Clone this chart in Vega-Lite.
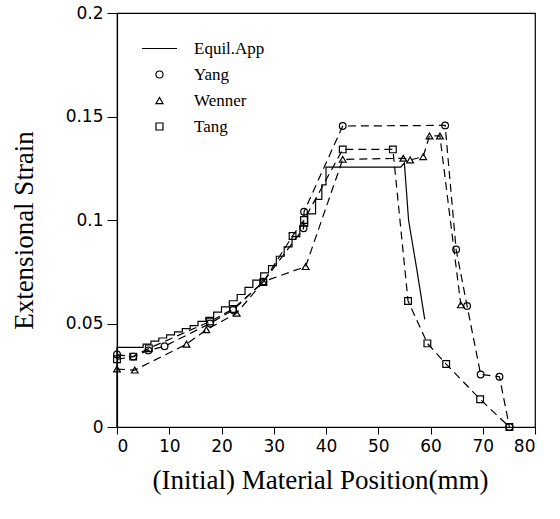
{
  "$schema": "https://vega.github.io/schema/vega-lite/v6.json",
  "width": 418,
  "height": 414,
  "autosize": "none",
  "padding": {"left": 117, "top": 13, "right": 25, "bottom": 92},
  "background": "white",
  "config": {
    "view": {"stroke": "black", "strokeWidth": 1.2},
    "axis": {
      "grid": false,
      "domainColor": "black",
      "domainWidth": 1.2,
      "tickColor": "black",
      "labelColor": "black",
      "labelFont": "DejaVu Sans",
      "labelFontSize": 17,
      "titleFont": "Liberation Serif",
      "titleFontSize": 27,
      "titleFontWeight": "normal",
      "titleColor": "black"
    },
    "legend": {
      "labelFont": "Liberation Serif",
      "labelFontSize": 17,
      "labelColor": "black",
      "symbolStrokeColor": "black",
      "symbolFillColor": "transparent",
      "symbolStrokeWidth": 1.2,
      "padding": 0
    }
  },
  "data": {
    "values": [
      {"series": "Equil.App", "i": 1, "x": 0, "y": 0},
      {"series": "Equil.App", "i": 2, "x": 0, "y": 0.0385},
      {"series": "Equil.App", "i": 3, "x": 5, "y": 0.0385},
      {"series": "Equil.App", "i": 4, "x": 5, "y": 0.040},
      {"series": "Equil.App", "i": 5, "x": 6.5, "y": 0.040},
      {"series": "Equil.App", "i": 6, "x": 6.5, "y": 0.0415},
      {"series": "Equil.App", "i": 7, "x": 8, "y": 0.0415},
      {"series": "Equil.App", "i": 8, "x": 8, "y": 0.043},
      {"series": "Equil.App", "i": 9, "x": 9.5, "y": 0.043},
      {"series": "Equil.App", "i": 10, "x": 9.5, "y": 0.0445},
      {"series": "Equil.App", "i": 11, "x": 11, "y": 0.0445},
      {"series": "Equil.App", "i": 12, "x": 11, "y": 0.046},
      {"series": "Equil.App", "i": 13, "x": 12.5, "y": 0.046},
      {"series": "Equil.App", "i": 14, "x": 12.5, "y": 0.0475},
      {"series": "Equil.App", "i": 15, "x": 14, "y": 0.0475},
      {"series": "Equil.App", "i": 16, "x": 14, "y": 0.049},
      {"series": "Equil.App", "i": 17, "x": 15.5, "y": 0.049},
      {"series": "Equil.App", "i": 18, "x": 15.5, "y": 0.051},
      {"series": "Equil.App", "i": 19, "x": 17, "y": 0.051},
      {"series": "Equil.App", "i": 20, "x": 17, "y": 0.053},
      {"series": "Equil.App", "i": 21, "x": 18.5, "y": 0.053},
      {"series": "Equil.App", "i": 22, "x": 18.5, "y": 0.0555},
      {"series": "Equil.App", "i": 23, "x": 20, "y": 0.0555},
      {"series": "Equil.App", "i": 24, "x": 20, "y": 0.058},
      {"series": "Equil.App", "i": 25, "x": 21.5, "y": 0.058},
      {"series": "Equil.App", "i": 26, "x": 21.5, "y": 0.061},
      {"series": "Equil.App", "i": 27, "x": 23, "y": 0.061},
      {"series": "Equil.App", "i": 28, "x": 23, "y": 0.064},
      {"series": "Equil.App", "i": 29, "x": 24.5, "y": 0.064},
      {"series": "Equil.App", "i": 30, "x": 24.5, "y": 0.0675},
      {"series": "Equil.App", "i": 31, "x": 26, "y": 0.0675},
      {"series": "Equil.App", "i": 32, "x": 26, "y": 0.071},
      {"series": "Equil.App", "i": 33, "x": 27.5, "y": 0.071},
      {"series": "Equil.App", "i": 34, "x": 27.5, "y": 0.0745},
      {"series": "Equil.App", "i": 35, "x": 29, "y": 0.0745},
      {"series": "Equil.App", "i": 36, "x": 29, "y": 0.078},
      {"series": "Equil.App", "i": 37, "x": 30.5, "y": 0.078},
      {"series": "Equil.App", "i": 38, "x": 30.5, "y": 0.0825},
      {"series": "Equil.App", "i": 39, "x": 32, "y": 0.0825},
      {"series": "Equil.App", "i": 40, "x": 32, "y": 0.087},
      {"series": "Equil.App", "i": 41, "x": 33.5, "y": 0.087},
      {"series": "Equil.App", "i": 42, "x": 33.5, "y": 0.092},
      {"series": "Equil.App", "i": 43, "x": 35, "y": 0.092},
      {"series": "Equil.App", "i": 44, "x": 35, "y": 0.097},
      {"series": "Equil.App", "i": 45, "x": 36.5, "y": 0.097},
      {"series": "Equil.App", "i": 46, "x": 36.5, "y": 0.103},
      {"series": "Equil.App", "i": 47, "x": 38, "y": 0.103},
      {"series": "Equil.App", "i": 48, "x": 38, "y": 0.110},
      {"series": "Equil.App", "i": 49, "x": 39.2, "y": 0.110},
      {"series": "Equil.App", "i": 50, "x": 39.2, "y": 0.117},
      {"series": "Equil.App", "i": 51, "x": 40, "y": 0.117},
      {"series": "Equil.App", "i": 52, "x": 40, "y": 0.1255},
      {"series": "Equil.App", "i": 53, "x": 54.3, "y": 0.1255},
      {"series": "Equil.App", "i": 54, "x": 55, "y": 0.1275},
      {"series": "Equil.App", "i": 55, "x": 55.8, "y": 0.1},
      {"series": "Equil.App", "i": 56, "x": 57.4, "y": 0.0758},
      {"series": "Equil.App", "i": 57, "x": 58.9, "y": 0.052},

      {"series": "Yang", "i": 1, "x": 0, "y": 0.035},
      {"series": "Yang", "i": 2, "x": 3.1, "y": 0.034},
      {"series": "Yang", "i": 3, "x": 6, "y": 0.037},
      {"series": "Yang", "i": 4, "x": 9.1, "y": 0.039},
      {"series": "Yang", "i": 5, "x": 17.8, "y": 0.050},
      {"series": "Yang", "i": 6, "x": 22.2, "y": 0.0565},
      {"series": "Yang", "i": 7, "x": 28, "y": 0.0702},
      {"series": "Yang", "i": 8, "x": 35.7, "y": 0.096},
      {"series": "Yang", "i": 9, "x": 35.8, "y": 0.104},
      {"series": "Yang", "i": 10, "x": 43.2, "y": 0.1454},
      {"series": "Yang", "i": 11, "x": 62.8, "y": 0.1457},
      {"series": "Yang", "i": 12, "x": 64.9, "y": 0.0858},
      {"series": "Yang", "i": 13, "x": 67, "y": 0.0585},
      {"series": "Yang", "i": 14, "x": 69.6, "y": 0.0254},
      {"series": "Yang", "i": 15, "x": 73.2, "y": 0.0243},
      {"series": "Yang", "i": 16, "x": 75.1, "y": 0},

      {"series": "Wenner", "i": 1, "x": 0, "y": 0.028},
      {"series": "Wenner", "i": 2, "x": 3.4, "y": 0.0275},
      {"series": "Wenner", "i": 3, "x": 13.3, "y": 0.040},
      {"series": "Wenner", "i": 4, "x": 17.1, "y": 0.047},
      {"series": "Wenner", "i": 5, "x": 22.9, "y": 0.055},
      {"series": "Wenner", "i": 6, "x": 28, "y": 0.0702},
      {"series": "Wenner", "i": 7, "x": 36.1, "y": 0.0775},
      {"series": "Wenner", "i": 8, "x": 43.2, "y": 0.1293},
      {"series": "Wenner", "i": 9, "x": 54.8, "y": 0.1298},
      {"series": "Wenner", "i": 10, "x": 56.1, "y": 0.129},
      {"series": "Wenner", "i": 11, "x": 58.6, "y": 0.1306},
      {"series": "Wenner", "i": 12, "x": 59.8, "y": 0.1406},
      {"series": "Wenner", "i": 13, "x": 61.8, "y": 0.1406},
      {"series": "Wenner", "i": 14, "x": 65.8, "y": 0.059},

      {"series": "Tang", "i": 1, "x": 0, "y": 0.0327},
      {"series": "Tang", "i": 2, "x": 3.1, "y": 0.034},
      {"series": "Tang", "i": 3, "x": 6.1, "y": 0.038},
      {"series": "Tang", "i": 4, "x": 17.8, "y": 0.051},
      {"series": "Tang", "i": 5, "x": 22.2, "y": 0.057},
      {"series": "Tang", "i": 6, "x": 28, "y": 0.070},
      {"series": "Tang", "i": 7, "x": 33.6, "y": 0.0923},
      {"series": "Tang", "i": 8, "x": 35.8, "y": 0.100},
      {"series": "Tang", "i": 9, "x": 43.2, "y": 0.1341},
      {"series": "Tang", "i": 10, "x": 52.8, "y": 0.1341},
      {"series": "Tang", "i": 11, "x": 55.7, "y": 0.0609},
      {"series": "Tang", "i": 12, "x": 59.4, "y": 0.0404},
      {"series": "Tang", "i": 13, "x": 63, "y": 0.0304},
      {"series": "Tang", "i": 14, "x": 69.5, "y": 0.0134},
      {"series": "Tang", "i": 15, "x": 75.1, "y": 0}
    ]
  },
  "encoding": {
    "x": {
      "field": "x", "type": "quantitative",
      "scale": {"domain": [0, 80], "nice": false},
      "axis": {
        "title": "(Initial) Material Position(mm)",
        "values": [0, 10, 20, 30, 40, 50, 60, 70, 80],
        "tickSize": 7,
        "labelPadding": 4,
        "titleX": 203,
        "titleY": 61,
        "titleBaseline": "alphabetic",
        "titleAlign": "center"
      }
    },
    "y": {
      "field": "y", "type": "quantitative",
      "scale": {"domain": [0, 0.2], "nice": false},
      "axis": {
        "title": "Extensional Strain",
        "values": [0, 0.05, 0.1, 0.15, 0.2],
        "format": "~g",
        "tickSize": 10,
        "labelPadding": 4,
        "titleAngle": -90,
        "titleX": -85,
        "titleY": 217,
        "titleBaseline": "alphabetic",
        "titleAlign": "center"
      }
    }
  },
  "layer": [
    {
      "transform": [{"filter": "datum.series === 'Equil.App'"}],
      "mark": {"type": "line", "color": "black", "strokeWidth": 1.2},
      "encoding": {
        "order": {"field": "i", "type": "quantitative"}
      }
    },
    {
      "transform": [{"filter": "datum.series !== 'Equil.App'"}],
      "mark": {"type": "line", "color": "black", "strokeWidth": 1.2, "strokeDash": [8, 5]},
      "encoding": {
        "detail": {"field": "series"},
        "order": {"field": "i", "type": "quantitative"}
      }
    },
    {
      "transform": [{"filter": "datum.series !== 'Equil.App'"}],
      "mark": {"type": "point", "filled": false, "color": "black", "strokeWidth": 1.2, "size": 45, "opacity": 1},
      "encoding": {
        "shape": {
          "field": "series", "type": "nominal",
          "scale": {"domain": ["Equil.App", "Yang", "Wenner", "Tang"], "range": ["M-5,0H5", "circle", "triangle-up", "square"]},
          "legend": {
            "title": null,
            "orient": "none",
            "legendX": 34,
            "legendY": 27,
            "symbolSize": 49,
            "labelOffset": 26,
            "rowPadding": 8,
            "labelFont": "Liberation Serif",
            "labelFontSize": 17,
            "labelColor": "black"
          }
        }
      }
    }
  ]
}
